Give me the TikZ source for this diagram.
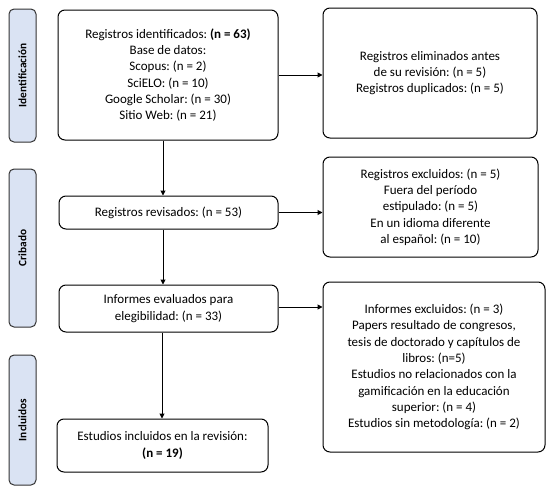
\documentclass[tikz,border=0pt]{standalone}
\usepackage{fontspec}
\setmainfont{Carlito}
\usetikzlibrary{arrows.meta}
\definecolor{sidefill}{HTML}{DAE3F3}
\frenchspacing
\tikzset{
  box/.style={draw=black, line width=1pt, rounded corners=7pt, align=center, inner sep=2pt,
    font=\fontsize{13}{16.3}\selectfont},
  sidebox/.style={draw=black!80, line width=1pt, fill=sidefill, rounded corners=5pt, rotate=90,
    minimum height=27pt, inner sep=0pt, font=\fontsize{11.3}{13}\selectfont\bfseries},
  arr/.style={line width=1pt, -{Triangle[length=5pt,width=5pt]}},
}
\begin{document}
\begin{tikzpicture}[x=1pt,y=-1pt]
\useasboundingbox (0,0) rectangle (555,493);
\node[sidebox, minimum width=133pt] (s1) at (22.5,75.5) {Identificación};
\node[sidebox, minimum width=158pt] (s2) at (22.5,248) {Cribado};
\node[sidebox, minimum width=130pt] (s3) at (22.5,420) {Incluidos};

\node[box, minimum width=220pt, minimum height=130pt] (b1) at (168,75)
  {Registros identificados: \textbf{(n = 63)}\\Base de datos:\\Scopus: (n = 2)\\SciELO: (n = 10)\\Google Scholar: (n = 30)\\Sitio Web: (n = 21)};
\node[box, minimum width=214pt, minimum height=130pt] (r1) at (430,73)
  {Registros eliminados antes\\de su revisión: (n = 5)\\Registros duplicados: (n = 5)};
\node[box, minimum width=219pt, minimum height=33pt] (b2) at (168.5,212.5)
  {Registros revisados: (n = 53)};
\node[box, minimum width=215pt, minimum height=100pt] (r2) at (430.5,207)
  {Registros excluidos: (n = 5)\\Fuera del período\\estipulado: (n = 5)\\En un idioma diferente\\al español: (n = 10)};
\node[box, minimum width=219pt, minimum height=47pt] (b3) at (168.5,308.5)
  {Informes evaluados para\\elegibilidad: (n = 33)};
\node[box, minimum width=222pt, minimum height=170pt] (r3) at (434,367)
  {Informes excluidos: (n = 3)\\Papers resultado de congresos,\\tesis de doctorado y capítulos de\\libros: (n=5)\\Estudios no relacionados con la\\gamificación en la educación\\superior: (n = 4)\\Estudios sin metodología: (n = 2)};
\node[box, minimum width=211pt, minimum height=53pt] (b4) at (162.5,445.5)
  {Estudios incluidos en la revisión:\\\textbf{(n = 19)}};

\draw[arr] (b1.east) -- (b1.east -| r1.west);
\draw[arr] (b2.east) -- (b2.east -| r2.west);
\draw[arr] ([yshift=1.5pt]b3.east) -- ([yshift=1.5pt]b3.east -| r3.west);
\draw[arr] ([xshift=-5pt]b1.south) -- ([xshift=-5pt]b1.south |- b2.north);
\draw[arr] ([xshift=-5.5pt]b2.south) -- ([xshift=-5.5pt]b2.south |- b3.north);
\draw[arr] ([xshift=-6.5pt]b3.south) -- ([xshift=-6.5pt]b3.south |- b4.north);
\end{tikzpicture}
\end{document}
